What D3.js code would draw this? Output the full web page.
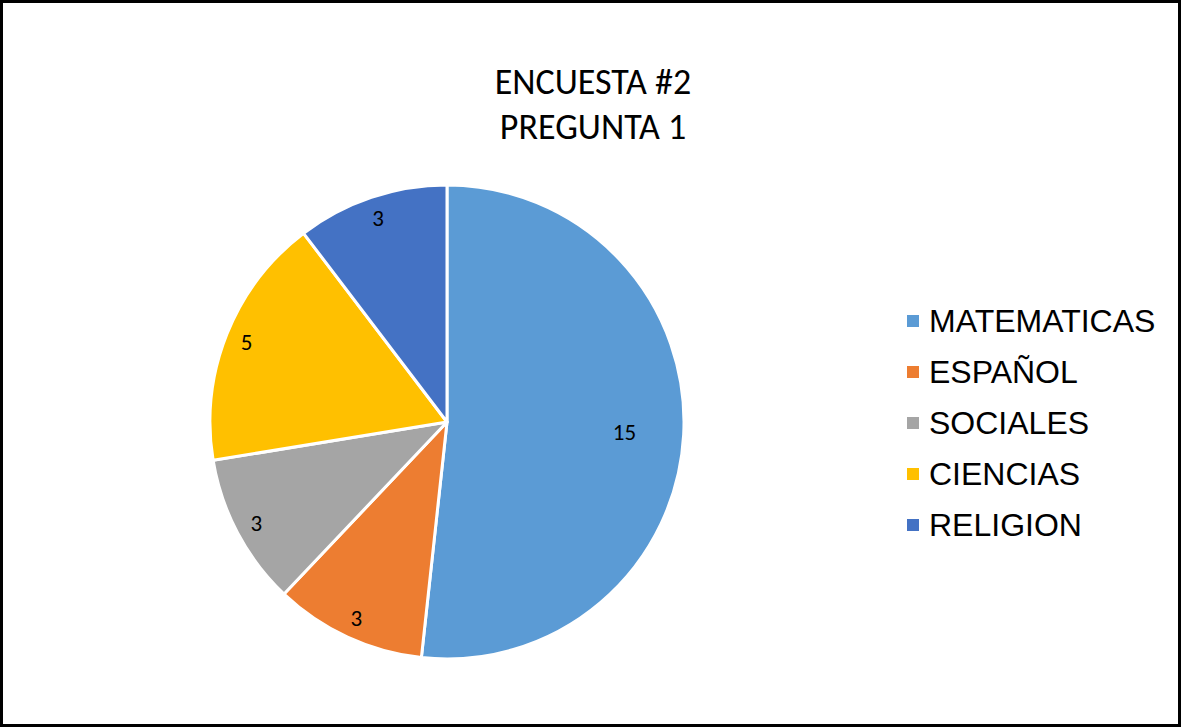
<!DOCTYPE html>
<meta charset="utf-8">
<style>
body { margin: 0; background: #fff; }
.title { font-family: Carlito, "Open Sans", sans-serif; font-size: 36px; fill: #000; }
.slice-label { font-family: Carlito, "Open Sans", sans-serif; font-size: 23px; fill: #000; }
.legend-elem text { font-family: "Liberation Sans", Arial, sans-serif; font-size: 32px; fill: #000; }
</style>
<svg width="1182" height="728"></svg>
<script src="https://d3js.org/d3.v7.min.js"></script>
<script>

// Data
var categories = ["MATEMATICAS", "ESPAÑOL", "SOCIALES", "CIENCIAS", "RELIGION"];
var values = [15, 3, 3, 5, 3];
var colors = ["#5B9BD5", "#ED7D31", "#A5A5A5", "#FFC000", "#4472C4"];
var titleLines = ["ENCUESTA #2", "PREGUNTA 1"];

var svg = d3.select("svg");

// frame
svg.append("rect")
    .attr("x", 1.5).attr("y", 1.5)
    .attr("width", 1178).attr("height", 724)
    .attr("fill", "#fff")
    .attr("stroke", "#000")
    .attr("stroke-width", 3);

// title
svg.append("text")
    .attr("class", "title")
    .attr("text-anchor", "middle")
  .selectAll("tspan")
  .data(titleLines)
  .join("tspan")
    .attr("x", 593)
    .attr("y", (d, i) => 94 + i * 45)
    .text(d => d);

var color = d3.scaleOrdinal().domain(categories).range(colors);

var cx = 447, cy = 422, radius = 237;

var pie = d3.pie().sort(null).value(d => d.value);
var arcs = pie(categories.map((c, i) => ({ name: c, value: values[i] })));

var arc = d3.arc().innerRadius(0).outerRadius(radius);
// "best fit": big slices get the label inside, small ones near the rim
var labelR = d => (d.endAngle - d.startAngle) > Math.PI / 2 ? radius * 0.75 : radius * 0.91;

var g = svg.append("g").attr("transform", `translate(${cx},${cy})`);

g.selectAll("path")
  .data(arcs)
  .join("path")
    .attr("d", arc)
    .attr("fill", d => color(d.data.name))
    .attr("stroke", "#fff")
    .attr("stroke-width", 3)
    .attr("stroke-linejoin", "round");

g.selectAll(".slice-label")
  .data(arcs)
  .join("text")
    .attr("class", "slice-label")
    .attr("transform", d => {
      var r = labelR(d);
      return `translate(${d3.arc().innerRadius(r).outerRadius(r).centroid(d)})`;
    })
    .attr("text-anchor", "middle")
    .attr("dy", "0.35em")
    .text(d => d.data.value);

// Legend
var legend = svg.append("g").attr("transform", "translate(907, 321)");

var legend_elems = legend.selectAll(".legend-elem")
  .data(categories)
  .join("g")
    .attr("class", "legend-elem")
    .attr("transform", (d, i) => `translate(0, ${i * 51})`);

legend_elems.append("rect")
    .attr("x", 0).attr("y", -6)
    .attr("width", 12).attr("height", 12)
    .attr("fill", d => color(d));

legend_elems.append("text")
    .attr("x", 22)
    .attr("y", 11)
    .text(d => d);

</script>
